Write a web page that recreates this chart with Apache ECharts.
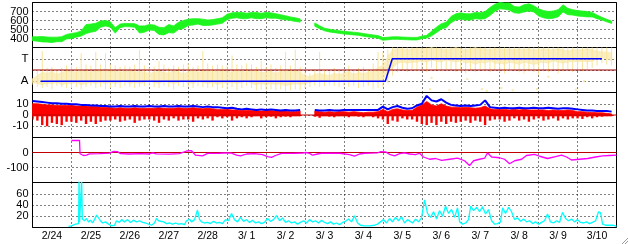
<!DOCTYPE html>
<html><head><meta charset="utf-8">
<script src="https://cdn.jsdelivr.net/npm/echarts@6/dist/echarts.min.js"></script>
<style>html,body{margin:0;padding:0;background:#fff}#c{width:628px;height:244px}</style>
</head><body><div id="c"></div>
<script>
// ---------------- data ----------------
const STEP_H = 3; // hours between slots, slot 0 = 2/24 00:00
const dayLabels = ['2/24','2/25','2/26','2/27','2/28','3/ 1','3/ 2','3/ 3','3/ 4','3/ 5','3/ 6','3/ 7','3/ 8','3/ 9','3/10'];

// panel 1 (green band): centre and half-thickness per slot
const greenMid = [
 398,395,392,388,385,390,392,420, 428,440,455,505,515,525,560,570,
 555,490,540,550,548,545,500,505, 525,520,485,480,510,500,540,555,
 580,585,590,580,575,580,590,600, 640,655,660,655,650,660,655,650,
 660,655,650,640,630,620,610,600, null,null,555,525,500,488,480,472,
 465,460,455,450,440,432,425,418, 395,400,405,405,402,400,398,398,
 412,420,455,495,535,550,610,640, 650,640,640,655,650,660,700,740,
 765,760,755,720,715,735,745,730, 690,670,660,665,680,735,700,690,
 680,675,670,665,640,620,600,580];
const greenHalf = [
 22,25,30,28,30,25,28,25, 28,25,28,50,45,45,35,30,
 30,30,20,18,18,20,40,35, 30,30,40,40,45,40,40,45,
 35,35,30,35,30,30,30,30, 30,30,30,35,30,30,35,30,
 30,30,25,25,22,20,20,18, 0,0,18,16,15,15,15,15,
 15,15,15,15,15,15,15,15, 15,14,14,14,14,14,14,14,
 14,15,25,30,30,30,35,35, 35,35,35,35,35,40,45,40,
 35,35,40,35,35,40,40,35, 40,40,40,40,40,40,35,30,
 30,30,30,25,20,15,15,12];

// panel 2 (yellow scatter): dense core range and full extent per slot
const yellowLo = [
 0.9,0.8,0.7,0.8,0.8,0.9,0.7,0.8, 0.8,0.9,0.7,0.8,0.9,0.8,0.9,0.8,
 0.9,0.8,0.9,1.0,0.8,0.9,0.8,0.9, 1.0,0.9,0.8,1.0,0.9,0.8,0.9,1.0,
 0.9,0.8,1.0,0.9,0.8,0.9,0.7,0.9, 0.8,0.9,0.8,0.9,1.0,0.8,0.7,0.8,
 0.7,0.8,0.7,0.8,0.6,0.7,0.8,0.7, 0.8,0.9,1.0,1.1,1.0,1.1,1.0,1.1,
 1.0,1.1,1.0,1.1,1.0,0.9,1.0,0.9, 1.2,1.6,2.2,2.6,2.7,2.6,2.7,2.7,
 2.8,2.7,2.9,2.8,2.7,2.9,2.8,2.7, 2.8,2.6,2.7,2.5,2.7,2.6,2.8,2.6,
 2.6,2.5,2.7,2.6,2.5,2.7,2.6,2.5, 2.6,2.7,2.6,2.8,2.7,2.6,2.7,2.8,
 2.7,2.8,2.7,2.8,3.0,3.1,3.0,2.8];
const yellowHi = [
 1.2,1.5,1.8,1.7,1.9,1.6,1.8,1.9, 1.9,1.8,2.0,1.9,1.8,2.0,1.9,2.1,
 1.9,2.0,1.8,1.9,2.0,1.8,1.9,1.8, 1.7,1.8,1.9,1.8,1.7,2.0,1.8,1.7,
 1.8,2.0,1.8,1.9,2.0,1.8,2.0,1.9, 1.9,1.8,2.0,1.9,1.8,2.0,1.9,1.8,
 1.8,1.9,1.7,1.9,2.0,1.8,2.0,1.8, 1.5,1.4,1.6,1.7,1.6,1.5,1.7,1.6,
 1.7,1.9,1.6,1.8,1.7,1.8,1.9,2.2, 2.4,3.2,3.8,3.9,3.9,3.8,3.9,3.9,
 3.9,3.9,4.0,3.9,3.9,3.8,3.9,4.0, 3.9,3.8,3.9,4.0,3.9,3.9,3.8,3.9,
 3.9,3.8,3.9,3.8,3.9,3.8,3.9,3.8, 3.8,3.9,3.8,3.8,3.9,3.8,3.7,3.8,
 3.8,3.8,3.9,3.8,3.7,3.6,3.6,3.5];
const yellowMin = [
 0.7,0.5,0.4,0.5,0.3,0.6,0.5,0.4, 0.4,0.5,0.3,0.5,0.6,0.4,0.5,0.3,
 0.4,0.5,0.4,0.6,0.5,0.4,0.5,0.6, 0.6,0.5,0.4,0.6,0.5,0.3,0.6,0.5,
 0.5,0.4,0.6,0.5,0.4,0.5,0.2,0.4, 0.3,0.5,0.2,0.4,0.6,0.4,0.2,0.3,
 0.2,0.3,0.2,0.3,0.1,0.2,0.3,0.2, 0.4,0.5,0.6,0.5,0.6,0.7,0.6,0.5,
 0.6,0.5,0.6,0.4,0.5,0.6,0.3,0.4, 0.5,0.8,1.5,1.8,2.0,1.8,2.1,1.9,
 2.0,1.8,2.2,2.0,1.9,2.1,2.0,1.8, 1.9,1.7,2.0,1.8,2.1,1.9,1.8,2.0,
 1.8,1.7,1.9,2.0,1.8,1.7,1.9,1.8, 1.6,1.9,1.8,2.0,1.7,1.9,2.0,1.8,
 2.0,1.9,2.1,2.2,2.4,2.6,2.5,2.4];
const yellowMax = [
 1.3,2.0,3.7,2.2,2.3,2.0,2.2,2.4, 2.4,2.3,3.5,2.5,2.4,3.6,2.5,3.5,
 2.5,2.4,2.3,2.4,2.3,2.5,3.8,2.4, 2.2,2.3,2.8,2.5,2.2,2.4,2.3,2.5,
 2.6,2.3,2.4,3.7,2.6,2.4,2.5,2.4, 2.4,3.3,2.5,2.4,2.6,2.5,2.3,2.8,
 2.3,2.5,2.2,2.4,3.6,2.4,3.8,2.3, 1.8,1.7,2.0,3.6,2.0,1.9,2.2,2.0,
 2.0,2.4,2.0,2.2,2.3,2.1,2.6,3.6, 3.6,3.8,4.0,4.0,4.0,4.0,4.0,4.0,
 4.0,4.0,4.0,4.0,4.0,4.0,4.0,4.0, 4.0,4.0,4.0,4.0,4.0,4.0,4.0,4.0,
 4.0,4.0,4.0,4.0,4.0,4.0,4.0,4.0, 4.0,4.0,4.0,4.0,4.0,4.0,4.0,4.0,
 4.0,4.0,4.0,4.0,4.0,4.0,4.0,4.0];
const yellowDots = [[245,0.3],[246,1.3],[257,0.2],[268,1.2],[277,0.3],[280,0.15],[289,0.4],[296,0.2],[311,0.3],[318,1.4],[335,0.25],[340,1.0]];
const refLevel2 = 2;
const blueStepHours = [5, 217.5, 221.8, 351];
const blueStepValues = [1, 1, 3, 3];

// panel 3: blue upper line, red range per slot
const blue3 = [
 12.5,12,11.5,11,10.5,10.5,10,10, 9.5,9.5,9,9,8.5,8.5,8,8,
 7.5,7.5,8,7.5,7.5,8,7.5,7.5, 8,7.5,7.5,8,7.5,7.5,8,7.5,
 7.5,8,7.5,7,7.5,7,7,6.5, 6,6.5,5.5,5,5.5,5,4.5,5,
 4.5,5,4.5,4,4.5,4,4,4.5, null,null,4.5,4,4,4.5,4,4,
 4.5,4.5,4.5,4.5,4.5,4.5,4.5,4.5, 7.5,5,7,8,6.5,5.5,6,8.5,
 10,17,13,12,14,11,9,8.5, 8,8.5,8,8.5,9,13,7,6.5,
 6,6.5,6,6,6.5,6,6,6.5, 6,6,6.5,6,5.5,6,6,5.5,
 5,4.5,4,4,3.5,3.5,3.5,3];
const redHi = [
 10,10,9.5,9,9,8.5,8.5,8.5, 8.5,8,8,8,7.5,7.5,7,7,
 6.5,6,6.5,6,6,6.5,6,6, 6,6,6.5,6,6,6,6.5,6,
 6,6.5,6,5.5,6,5.5,5,5, 5,4.5,4.5,4,4,4,4,3.5,
 4,4,3.5,3.5,3.5,3,3,3.5, null,null,3.5,3,2.5,3,2.5,3,
 3,2.5,3,2.5,2,2.5,2.5,3, 5,3,5,5.5,4.5,4,4,7,
 9,12,9,8,10,8,7,7, 6.5,7,6.5,6,6.5,8,5.5,5,
 5,5,4.5,5,4.5,5,4.5,4.5, 4.5,4.5,4,4.5,4,4,4.5,4,
 3,3,2.5,2.5,2,2,1.5,1];
const redLo = [
 -4,-5,-9,-10,-7,-8,-9,-6, -6,-7,-5,-8,-6,-8,-6,-5,
 -5,-4,-6,-5,-4,-7,-5,-4, -4,-5,-7,-4,-5,-3,-5,-4,
 -4,-6,-3,-4,-3,-5,-2,-3, -2,-5,-3,-2,-3,-2,-1,-3,
 -2,-1.5,-3,-2,-1.5,-2,-1,-1, null,null,-1.5,-2.5,-1,-1.5,-2,-1,
 -1,-2,-1,-1.5,-2,-1,-2,-3, -4,-8,-5,-6,-3,-4,-4,-6,
 -8,-9,-7,-9,-6,-8,-6,-7, -6,-5,-7,-5,-6,-9,-5,-4,
 -4,-6,-5,-3,-5,-4,-6,-4, -3,-5,-4,-3,-5,-3,-4,-3,
 -3,-3.5,-2,-3,-2,-1.5,-1,-1];

// panel 4: magenta [hour, value]
const magenta = [[24,80],[29,80],[29.3,-8],[31.4,-20],[33.3,-18],[35.1,-9],[41.3,-8],[47.5,-4],[50,8],[52.4,6],[54.3,-8],[59.8,-10],[66,-8],[72,-10],[74,-2],[76.4,-9],[84.5,-11],[90.6,-8],[95,10],[98,12],[100.5,-18],[104.8,-22],[108,-6],[115.3,-5],[119.6,-3],[120.8,7],[122.7,-4],[125.8,-18],[128.2,-22],[132,-10],[136.9,-8],[141.8,-14],[144.9,-28],[147.3,-32],[149.8,-20],[153.5,-6],[161.5,-5],[166.5,-4],[168.3,0],[170.8,-6],[172.6,-18],[175.7,-10],[178.2,-5],[189.3,-5],[195.4,-14],[198.5,-24],[201.6,-10],[204.7,-5],[212.7,-3],[214.5,5],[217.6,4],[220.1,-12],[223.2,-22],[226.3,-8],[229.3,-2],[232.4,-10],[236.1,-14],[238.6,-5],[241,-30],[244.8,-45],[248.5,-40],[252.2,-52],[257.1,-45],[262,-38],[266.3,-55],[269.4,-87],[271.9,-55],[275.6,-45],[278.7,-38],[280.5,-2],[283,-30],[287.9,-35],[291,-45],[294.1,-75],[297.2,-55],[301.5,-45],[304.5,-20],[309.5,-12],[312.6,-25],[317.5,-40],[322.4,-28],[326.1,-18],[329.2,-30],[332.3,-50],[337.2,-45],[342.2,-40],[347.1,-30],[351.4,-22],[355.7,-20],[360,-18]];
const refLevel0 = 0;

// panel 5: cyan [hour, value]
const cyan = [[22.2,2],[24,3],[26.5,6],[28.4,7],[28.7,85],[29.0,10],[29.9,10],[30.3,85],[30.7,15],[32.1,12],[33.3,16],[34.5,10],[35.8,13],[37,8],[38.2,14],[39.5,22],[40.7,24],[41.9,12],[43.2,8],[45,10],[46.9,6],[48.7,3],[50.6,4],[51.8,12],[53.6,9],[54.9,14],[56.7,10],[58.6,14],[60.4,9],[62.2,13],[64.1,10],[66,12],[67.8,9],[69.7,8],[71.5,6],[73.4,4],[75.2,8],[76.4,16],[77.7,12],[78.9,9],[80.8,10],[82.6,7],[84.5,8],[86.3,6],[88.2,8],[90,6],[91.9,7],[93.7,5],[94.9,12],[96.8,15],[98,10],[99.9,14],[101.7,31],[103,14],[104.2,10],[106,8],[107.9,9],[109.7,7],[111.6,11],[113.4,8],[115.3,9],[117.1,7],[119,14],[120.8,12],[122.7,25],[124.5,14],[126.4,10],[128.2,18],[130.1,11],[131.9,14],[133.8,9],[135.6,13],[137.5,8],[139.3,10],[141.2,7],[143,9],[144.9,16],[146.7,11],[148.6,14],[150.4,21],[152.3,12],[154.1,17],[156,9],[157.8,12],[159.7,8],[161.5,10],[163.4,6],[165.2,9],[167.1,12],[168.9,8],[170.8,14],[172.6,10],[174.5,12],[176.3,8],[178.2,13],[180,9],[181.9,7],[183.7,10],[185.6,6],[187.4,8],[189.3,5],[191.1,9],[193,11],[194.8,15],[196.7,10],[198.5,21],[200.4,8],[202.2,4],[204.7,3],[207.8,3],[210.8,4],[212.7,6],[214.5,10],[216.4,14],[218.2,8],[220.1,16],[221.9,10],[223.8,18],[225.6,12],[227.5,19],[229.3,8],[231.2,14],[232.4,12],[234.3,8],[236.1,15],[238,10],[239.8,17],[241.7,49],[243.5,25],[245.4,18],[247.2,28],[249.1,15],[250.9,30],[252.8,20],[254.6,38],[256.5,25],[258.3,32],[260.2,18],[262,35],[263.3,10],[265.1,6],[267,8],[268.8,14],[270.1,38],[271.9,30],[273.8,36],[275.6,28],[277.4,37],[279.3,24],[281.1,32],[283,12],[284.8,6],[286.7,7],[288.5,10],[289.8,35],[291.6,25],[293.5,36],[295.3,28],[297.2,14],[299,17],[300.9,11],[302.7,15],[304.6,10],[306.4,12],[308.3,7],[310.1,10],[312,6],[313.8,9],[315.6,12],[317.5,24],[319.3,10],[321.2,8],[323,12],[324.9,9],[326.7,27],[328.6,16],[330.4,12],[332.3,15],[334.1,10],[336,14],[337.8,9],[339.7,8],[341.5,10],[343.4,7],[345.2,9],[347.1,12],[348.9,28],[350.2,26],[351.4,6],[353.3,4],[355.7,4],[358.1,4],[360,2]];

// ---------------- chart ----------------
const FONT = "'Liberation Sans', Arial, sans-serif";
const DOT = {color:'#000', type:[1,3], width:1};
const PANEL_H = 45, TOP0 = 2.5;
const grids = [0,1,2,3,4].map(k => ({left:32.5, width:584, top:TOP0 + k*PANEL_H, height:PANEL_H,
  show:true, borderColor:'#000', borderWidth:1, backgroundColor:'rgba(0,0,0,0)'}));

const xAxes = [0,1,2,3,4].map(k => ({type:'value', gridIndex:k, min:0, max:360, interval:24,
  axisLine:{show:false}, axisTick:{show:false}, axisLabel:{show:false}, splitLine:{show:true, lineStyle:DOT}}));
xAxes.push({type:'category', gridIndex:4, data:dayLabels, boundaryGap:true, position:'bottom',
  axisLine:{show:false}, axisTick:{show:false}, splitLine:{show:false},
  axisLabel:{color:'#000', fontSize:10.5, fontFamily:FONT, margin:3, interval:0}});

function yAx(k, min, max, interval, extra) {
  return Object.assign({type:'value', gridIndex:k, min, max, interval,
    axisLine:{show:false}, axisTick:{show:false},
    axisLabel:{color:'#000', fontSize:11, fontFamily:FONT, margin:4, showMinLabel:false, showMaxLabel:false},
    splitLine:{show:true, lineStyle:DOT}}, extra||{});
}
const yAxes = [
  yAx(0, 300, 800, 100),
  yAx(1, 0, 4, 1, {axisLabel:{color:'#000', fontSize:11.5, fontFamily:FONT, margin:4, showMinLabel:false, showMaxLabel:false,
     formatter: v => v===1 ? 'A' : (v===3 ? 'T' : '')}}),
  yAx(2, -20, 20, 10),
  yAx(3, -200, 100, 100),
  yAx(4, 0, 80, 20)
];

function csRect(cs){ return {x:cs.x, y:cs.y, width:cs.width, height:cs.height}; }

// band polygon between two per-slot arrays (or an array and a constant level)
function bandSeries(k, loArr, hiArr, color, opacity, z) {
  const lo = i => Array.isArray(loArr) ? loArr[i] : (hiArr[i] == null ? null : loArr);
  const segs = []; let s = null;
  hiArr.forEach((v,i) => {
    const ok = v != null && lo(i) != null;
    if (ok && s === null) s = i;
    if (!ok && s !== null) { segs.push([s*STEP_H, (i-1)*STEP_H]); s = null; }
  });
  if (s !== null) segs.push([s*STEP_H, (hiArr.length-1)*STEP_H]);
  return {type:'custom', xAxisIndex:k, yAxisIndex:k, data:segs, encode:{x:[0,1]}, z,
    renderItem(params, api) {
      const i0 = Math.round(api.value(0)/STEP_H), i1 = Math.round(api.value(1)/STEP_H);
      const top = [], bot = [];
      for (let i = i0; i <= i1; i++) {
        top.push(api.coord([i*STEP_H, hiArr[i]]));
        bot.unshift(api.coord([i*STEP_H, lo(i)]));
      }
      const pts = echarts.graphic.clipPointsByRect(top.concat(bot), csRect(params.coordSys));
      return {type:'polygon', shape:{points:pts}, style:{fill:color, stroke:color, lineWidth:0.8, opacity}};
    }};
}
// thin vertical range marks per slot
function tickSeries(k, data, color, widthPx, z) {
  return {type:'custom', xAxisIndex:k, yAxisIndex:k, encode:{x:0, y:[1,2]}, data, z,
    renderItem(params, api){
      const h = api.value(0);
      const a = api.coord([h, api.value(2)]), b = api.coord([h, api.value(1)]);
      const r = echarts.graphic.clipRectByRect({x:a[0]-widthPx/2, y:a[1], width:widthPx, height:Math.max(b[1]-a[1],1)}, csRect(params.coordSys));
      return r ? {type:'rect', shape:r, style:{fill:color}} : null;
    }};
}

const greenLo = greenMid.map((m,i) => m==null ? null : m - greenHalf[i]);
const greenHi = greenMid.map((m,i) => m==null ? null : m + greenHalf[i]);
const yellowExt = yellowMin.map((v,i) => [i*STEP_H, v, yellowMax[i]]);
const redSpikes = redLo.map((v,i) => v==null ? null : [i*STEP_H, v, refLevel0]).filter(Boolean);
const blue3Data = blue3.map((v,i) => [i*STEP_H, v==null ? '-' : v]);
const blueStepData = blueStepHours.map((h,i) => [h, blueStepValues[i]]);

const YEL = '#f8e49a';
const series = [
  bandSeries(0, greenLo, greenHi, '#1ef51e', 1, 3),
  tickSeries(1, yellowExt, YEL, 1, 2),
  bandSeries(1, yellowLo, yellowHi, YEL, 0.6, 2),
  {type:'scatter', xAxisIndex:1, yAxisIndex:1, data:yellowDots, symbol:'rect', symbolSize:2, itemStyle:{color:YEL}, z:2},
  {type:'line', xAxisIndex:1, yAxisIndex:1, data:[[0,refLevel2],[360,refLevel2]], showSymbol:false, lineStyle:{color:'#a00000', width:1.2}, z:4},
  {type:'line', xAxisIndex:1, yAxisIndex:1, data:blueStepData, showSymbol:false, lineStyle:{color:'#0000ff', width:1.5}, z:5},
  bandSeries(2, -0.8, redHi, '#ff0000', 1, 3),
  tickSeries(2, redSpikes, '#ff0000', 2.4, 3),
  {type:'line', xAxisIndex:2, yAxisIndex:2, data:[[0,refLevel0],[360,refLevel0]], showSymbol:false, lineStyle:{color:'#c00000', width:1.2}, z:4},
  {type:'line', xAxisIndex:2, yAxisIndex:2, data:blue3Data, showSymbol:false, connectNulls:false, lineStyle:{color:'#0000ff', width:2}, z:5},
  {type:'line', xAxisIndex:3, yAxisIndex:3, data:[[0,refLevel0],[360,refLevel0]], showSymbol:false, lineStyle:{color:'#c00000', width:1.2}, z:4},
  {type:'line', xAxisIndex:3, yAxisIndex:3, data:magenta, showSymbol:false, lineStyle:{color:'#ff00ff', width:1.3}, z:5},
  {type:'line', xAxisIndex:4, yAxisIndex:4, data:cyan, showSymbol:false, lineStyle:{color:'#00ffff', width:1.3}, z:5}
];

const chart = echarts.init(document.getElementById('c'), null, {renderer:'canvas'});
chart.setOption({
  animation:false, backgroundColor:'#fff',
  grid:grids, xAxis:xAxes, yAxis:yAxes, series,
  graphic:[
    {type:'line', shape:{x1:622, y1:244, x2:628, y2:238}, style:{stroke:'#999', lineWidth:1}},
    {type:'line', shape:{x1:625, y1:244, x2:628, y2:241}, style:{stroke:'#999', lineWidth:1}}
  ]
});
</script></body></html>
